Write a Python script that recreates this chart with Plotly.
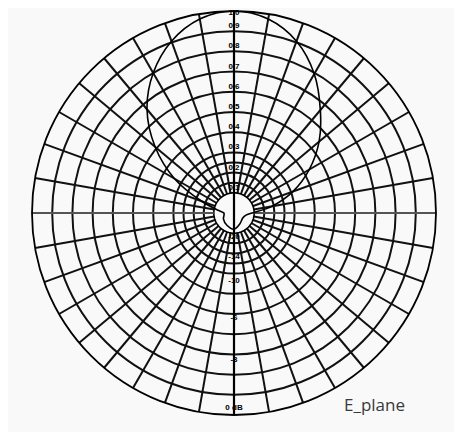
import plotly.graph_objects as go

# Pattern (E-plane), angle in degrees from broadside (0 = top, clockwise positive), normalized amplitude
theta_deg = [-180, -150, -120, -100, -90, -80, -70, -60, -50, -40, -30, -20, -10, 0,
             10, 20, 30, 40, 50, 60, 70, 80, 90, 100, 120, 150, 180]
amplitude = [0.08, 0.07, 0.06, 0.05, 0.05, 0.08, 0.17, 0.34, 0.51, 0.67, 0.80, 0.905, 0.975, 1.0,
             0.975, 0.905, 0.795, 0.665, 0.55, 0.43, 0.31, 0.19, 0.09, 0.06, 0.05, 0.06, 0.08]

# Grid rings (linear amplitude)
ring_vals = [0.15, 0.2, 0.25, 0.3, 0.4, 0.5, 0.6, 0.7, 0.8, 0.9, 1.0]
hole_r = 0.1

# Scale labels: upper half linear, lower half dB
lin_labels = ["1.0", "0.9", "0.8", "0.7", "0.6", "0.5", "0.4", "0.3", "0.2", "0.1"]
lin_vals = [1.0, 0.9, 0.8, 0.7, 0.6, 0.5, 0.4, 0.3, 0.2, 0.1]
db_labels = ["0 dB", "-3", "-6", "-10", "-14", "-20"]
db_vals = [0, -3, -6, -10, -14, -20]

BG = "#f9f9f9"

fig = go.Figure()

# central hole mask
mask_theta = list(range(0, 361, 5))
fig.add_trace(go.Scatterpolar(r=[hole_r] * len(mask_theta), theta=mask_theta, mode="lines",
                              fill="toself", fillcolor=BG, line=dict(color="black", width=1.6),
                              hoverinfo="skip", showlegend=False))
# horizontal axis (gray)
fig.add_trace(go.Scatterpolar(r=[1, hole_r], theta=[90, 90], mode="lines",
                              line=dict(color="#9a9a9a", width=1), showlegend=False))
fig.add_trace(go.Scatterpolar(r=[1, hole_r], theta=[-90, -90], mode="lines",
                              line=dict(color="#9a9a9a", width=1), showlegend=False))
# vertical axis (thick black, through the center)
fig.add_trace(go.Scatterpolar(r=[1, 0, 1], theta=[0, 0, 180], mode="lines",
                              line=dict(color="black", width=2.2), showlegend=False))
# pattern
fig.add_trace(go.Scatterpolar(r=amplitude, theta=theta_deg, mode="lines",
                              line=dict(color="black", width=1.6, shape="spline"),
                              showlegend=False))
# labels
lin_pos = [0.99 if v == 1.0 else v + 0.025 for v in lin_vals]
fig.add_trace(go.Scatterpolar(r=lin_pos, theta=[0] * len(lin_vals), mode="text",
                              text=["<b>%s</b>" % t for t in lin_labels],
                              textfont=dict(family="Liberation Sans", size=8, color="black"),
                              showlegend=False))
db_r = [10 ** (d / 20.0) for d in db_vals]
db_pos = [0.965 if r == 1.0 else r + 0.02 for r in db_r]
fig.add_trace(go.Scatterpolar(r=db_pos, theta=[180] * len(db_vals), mode="text",
                              text=["<b>%s</b>" % t for t in db_labels],
                              textfont=dict(family="Liberation Sans", size=8, color="black"),
                              showlegend=False))

# page body adds an 8px offset, so figure coords are shifted accordingly
cx, cy, R = 226, 205, 202
W, H = 462, 432
fig.update_layout(
    width=W, height=H,
    margin=dict(l=0, r=0, t=0, b=0),
    paper_bgcolor=BG,
    plot_bgcolor=BG,
    polar=dict(
        domain=dict(x=[(cx - R) / W, (cx + R) / W], y=[(H - cy - R) / H, (H - cy + R) / H]),
        bgcolor=BG,
        angularaxis=dict(rotation=90, direction="clockwise", dtick=10, showticklabels=False,
                         ticks="", showline=True, linecolor="black", linewidth=1.8,
                         gridcolor="#111111", gridwidth=1.6),
        radialaxis=dict(range=[0, 1], tickvals=ring_vals, showticklabels=False, ticks="",
                        showline=False, gridcolor="#111111", gridwidth=1.6),
    ),
    annotations=[dict(text="E_plane", x=334 / W, y=(H - 396) / H, xref="paper", yref="paper",
                      xanchor="left", yanchor="middle", showarrow=False,
                      font=dict(family="Open Sans", size=17, color="#3a3a3a"))],
)

fig.write_html("out.html")
